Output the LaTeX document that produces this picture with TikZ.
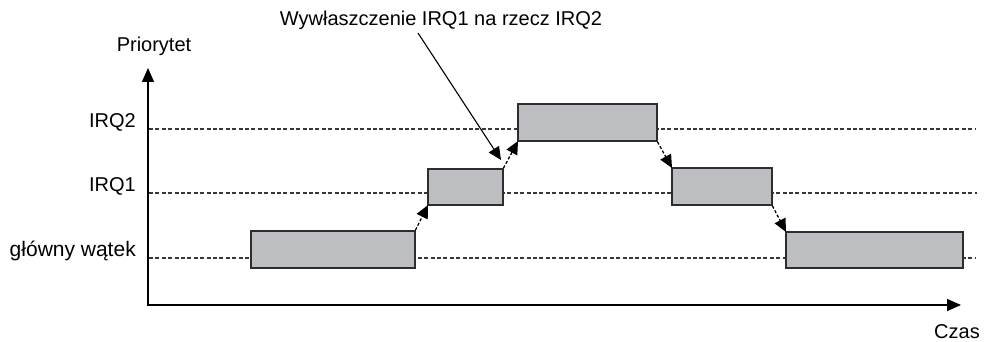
\documentclass[tikz,border=0pt]{standalone}
\usepackage{fontspec}
\setmainfont{Liberation Sans}
\usetikzlibrary{arrows.meta}
\definecolor{boxfill}{RGB}{189,190,194}
\definecolor{boxedge}{RGB}{45,45,45}
\definecolor{levelgray}{RGB}{55,55,55}
\begin{document}
\begin{tikzpicture}[x=1pt,y=-1pt,
  task/.style={draw=boxedge, fill=boxfill, line width=1.8pt, anchor=north west,
               inner sep=0pt, outer sep=0pt},
  level/.style={draw=levelgray, line width=1.3pt, dash pattern=on 4pt off 2.4pt},
  switchto/.style={draw=black, line width=1.3pt, dash pattern=on 3pt off 2pt,
                   shorten <=1pt, -{Triangle[length=13pt,width=12pt]}},
  axis/.style={draw=black, line width=1.4pt,
               {Triangle[length=14pt,width=12pt]}-{Triangle[length=14pt,width=12pt]}},
  txt/.style={font=\fontsize{20}{24}\selectfont, inner sep=0pt},
  lbl/.style={txt, anchor=base east}]

\useasboundingbox (0,0) rectangle (986,342);

% axes
\coordinate (origin) at (148,305);
\coordinate (ytop)   at (148,68);
\coordinate (xend)   at (961,305);
\draw[axis] (ytop) -- (origin) -- (xend);
\node[txt, anchor=base] (ylab) at (154,52) {Priorytet};
\node[txt, anchor=base] (xlab) at (957,338) {Czas};

% priority levels
\coordinate (lv2a) at (149,129); \coordinate (lv2b) at (976,129);
\coordinate (lv1a) at (149,193); \coordinate (lv1b) at (977,193);
\coordinate (lv0a) at (149,258); \coordinate (lv0b) at (976,258);
\draw[level] (lv2a) -- (lv2b);
\draw[level] (lv1a) -- (lv1b);
\draw[level] (lv0a) -- (lv0b);
\node[lbl] (tq2) at (136,128) {IRQ2};
\node[lbl] (tq1) at (136,192) {IRQ1};
\node[lbl, font=\fontsize{21}{25}\selectfont] (tq0) at (136,256) {główny wątek};

% execution intervals
\node[task, minimum width=164pt, minimum height=37pt] (m1) at (251,231) {};
\node[task, minimum width=75pt,  minimum height=36pt] (i1) at (428,169) {};
\node[task, minimum width=139pt, minimum height=37pt] (q2) at (518,104) {};
\node[task, minimum width=100pt, minimum height=37pt] (i2) at (672,168) {};
\node[task, minimum width=177pt, minimum height=36pt] (m2) at (786,232) {};

% context switches
\draw[switchto] (m1.north east) -- (i1.south west);
\draw[switchto] (i1.north east) -- (q2.south west);
\draw[switchto] (q2.south east) -- (i2.north west);
\draw[switchto] (i2.south east) -- (m2.north west);

% preemption note
\node[txt, anchor=base] (note) at (441,26) {Wywłaszczenie IRQ1 na rzecz IRQ2};
\coordinate (notefoot) at (418,33);
\coordinate (notetip)  at (501,160);
\draw[line width=1.1pt, -{Triangle[length=13pt,width=12pt]}] (notefoot) -- (notetip);
\end{tikzpicture}
\end{document}
